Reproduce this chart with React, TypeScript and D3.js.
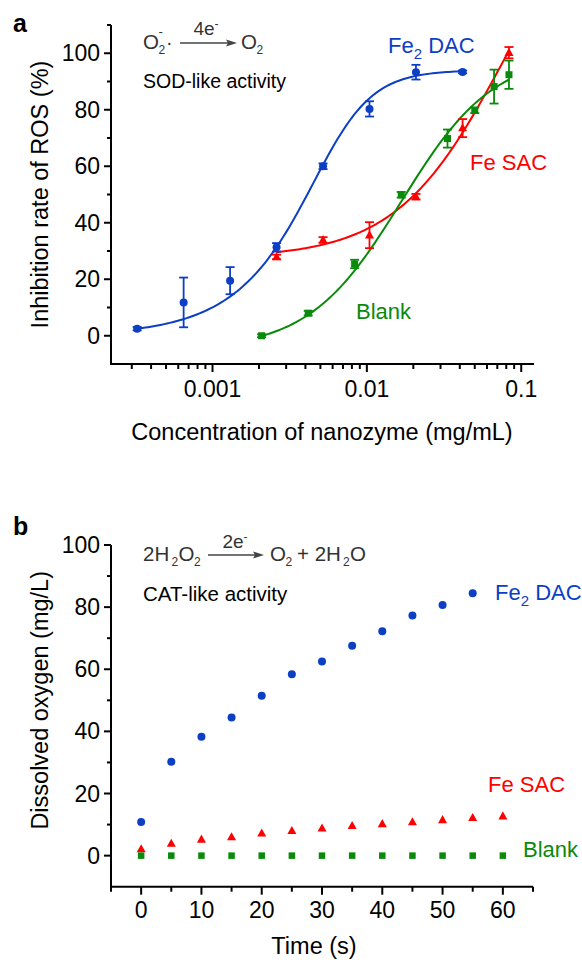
import React from 'react';
import * as d3 from 'd3';

// ---- panel a: SOD-like activity ----
const dacConc = [0.000325, 0.00065, 0.0013, 0.0026, 0.0052, 0.0104, 0.0208, 0.0417];
const dacInhib = [2.5, 11.8, 19.5, 31.3, 60, 80.3, 93.3, 93.4];
const dacErr = [0.6, 8.8, 4.8, 1.5, 1, 2.7, 2.6, 0.5];

const sacConc = [0.0026, 0.0052, 0.0104, 0.0208, 0.0417, 0.0833];
const sacInhib = [27.9, 33.9, 35.6, 49.2, 73.5, 100.2];
const sacErr = [0.8, 1, 4.6, 1, 3.2, 2];

const blankConc = [0.00208, 0.00417, 0.00833, 0.0167, 0.0333, 0.05, 0.0667, 0.0833];
const blankInhib = [0, 8, 25.4, 49.9, 69.8, 79.8, 88.2, 92.4];
const blankErr = [0.5, 0.8, 1.5, 1, 3.2, 1, 6, 5];

// fitted sigmoid on log10(x): [A1, A2, center, width, power]
const dacFit = [0, 94, -2.224, 0.174, 0.5];
const sacFit = [27.5, 170, -1.101, 0.352, 1];
const blankFit = [-5, 100, -1.777, 0.3, 1];

const yTicksA = [0, 20, 40, 60, 80, 100];
const xTicksA = [0.001, 0.01, 0.1];

// ---- panel b: CAT-like activity ----
const times = [0, 5, 10, 15, 20, 25, 30, 35, 40, 45, 50, 55, 60];
const dacO2 = [10.8, 30.2, 38.3, 44.5, 51.5, 58.4, 62.5, 67.6, 72.2, 77.3, 80.7, 84.5];
const sacO2 = [2.1, 3.9, 5.2, 6.0, 7.2, 8.0, 8.8, 9.6, 10.2, 10.8, 11.5, 12.2, 12.7];
const blankO2 = [0, 0, 0, 0, 0, 0, 0, 0, 0, 0, 0, 0, 0];

const yTicksB = [0, 20, 40, 60, 80, 100];
const xTicksB = [0, 10, 20, 30, 40, 50, 60];

const BLUE = '#0c3fc4';
const RED = '#ff0000';
const GREEN = '#0a8a0a';
const FONT = '"Liberation Sans", Arial, Helvetica, sans-serif';

const fitValue = (p: number[], x: number) => {
  const [a1, a2, c, w, s] = p;
  const f = 1 / (1 + Math.exp(-(Math.log10(x) - c) / w));
  return a1 + (a2 - a1) * Math.pow(f, s);
};

const Triangle = ({ x, y, size, color }: any) => {
  const h = size * 0.9;
  return (
    <path
      d={`M${x},${y - h * 0.6}L${x + size / 2},${y + h * 0.4}L${x - size / 2},${y + h * 0.4}Z`}
      fill={color}
    />
  );
};

const Marker = ({ kind, x, y, color, size }: any) => {
  if (kind === 'circle') return <circle cx={x} cy={y} r={size / 2} fill={color} />;
  if (kind === 'square')
    return <rect x={x - size / 2} y={y - size / 2} width={size} height={size} fill={color} />;
  return <Triangle x={x} y={y} size={size} color={color} />;
};

const Arrow = ({ x1, x2, y }: any) => (
  <g>
    <line x1={x1} y1={y} x2={x2 - 8} y2={y} stroke="#444" strokeWidth={1.3} />
    <path d={`M${x2},${y}L${x2 - 11},${y - 3.5}L${x2 - 9},${y}L${x2 - 11},${y + 3.5}Z`} fill="#444" />
  </g>
);

export default function App() {
  // ---------- scales ----------
  const xA = d3.scaleLog().domain([2.2e-4, 0.121]).range([111, 534]);
  const yA = d3.scaleLinear().domain([-10, 110]).range([364, 25]);
  const xB = d3.scaleLinear().domain([-5, 65]).range([111, 533]);
  const yB = d3.scaleLinear().domain([-10, 100]).range([886.7, 545]);

  const minorXA = xA.ticks().filter((t) => !xTicksA.includes(t));
  const minorYA = d3.range(10, 111, 20);
  const minorYB = d3.range(10, 91, 20);
  const minorXB = d3.range(-5, 66, 10);

  const curve = (p: number[], conc: number[]) => {
    const lo = Math.log10(conc[0]);
    const hi = Math.log10(conc[conc.length - 1]);
    const pts = d3.range(0, 121).map((i) => {
      const x = Math.pow(10, lo + ((hi - lo) * i) / 120);
      return [xA(x), yA(fitValue(p, x))] as [number, number];
    });
    return d3.line()(pts) || '';
  };

  const seriesA = [
    { conc: dacConc, val: dacInhib, err: dacErr, fit: dacFit, color: BLUE, kind: 'circle', size: 8 },
    { conc: sacConc, val: sacInhib, err: sacErr, fit: sacFit, color: RED, kind: 'triangle', size: 9 },
    { conc: blankConc, val: blankInhib, err: blankErr, fit: blankFit, color: GREEN, kind: 'square', size: 7 },
  ];

  const axisStroke = { stroke: '#000', strokeWidth: 2 };
  const tickFont = { fontFamily: FONT, fontSize: 23, fill: '#000' };

  return (
    <svg
      width={582}
      height={963}
      style={{ position: 'absolute', left: 0, top: 0, background: '#fff' }}
      fontFamily={FONT}
    >
      <rect width={582} height={963} fill="#fff" />

      {/* ================= panel a ================= */}
      <text x={13} y={32} fontSize={25} fontWeight="bold">a</text>

      {/* fitted curves */}
      {seriesA.map((s, i) => (
        <path key={'fit' + i} d={curve(s.fit, s.conc)} fill="none" stroke={s.color} strokeWidth={2} />
      ))}
      {/* error bars + markers */}
      {seriesA.map((s, i) => (
        <g key={'pts' + i}>
          {s.conc.map((c, j) => {
            const x = xA(c);
            const top = yA(s.val[j] + s.err[j]);
            const bot = yA(s.val[j] - s.err[j]);
            return (
              <g key={j} stroke={s.color} strokeWidth={1.8}>
                <line x1={x} x2={x} y1={top} y2={bot} />
                <line x1={x - 4.5} x2={x + 4.5} y1={top} y2={top} />
                <line x1={x - 4.5} x2={x + 4.5} y1={bot} y2={bot} />
              </g>
            );
          })}
          {s.conc.map((c, j) => (
            <Marker key={'m' + j} kind={s.kind} x={xA(c)} y={yA(s.val[j])} color={s.color} size={s.size} />
          ))}
        </g>
      ))}

      {/* axes a */}
      <line x1={111} x2={111} y1={yA(110)} y2={yA(-10)} {...axisStroke} />
      <line x1={110} x2={534} y1={yA(-10)} y2={yA(-10)} {...axisStroke} />
      {yTicksA.map((t) => (
        <g key={'ya' + t}>
          <line x1={104} x2={111} y1={yA(t)} y2={yA(t)} {...axisStroke} />
          <text x={100} y={yA(t)} dy="0.35em" textAnchor="end" {...tickFont}>{t}</text>
        </g>
      ))}
      {minorYA.map((t) => (
        <line key={'yam' + t} x1={107} x2={111} y1={yA(t)} y2={yA(t)} {...axisStroke} />
      ))}
      {xTicksA.map((t) => (
        <g key={'xa' + t}>
          <line x1={xA(t)} x2={xA(t)} y1={yA(-10)} y2={yA(-10) + 8} {...axisStroke} />
          <text x={xA(t)} y={yA(-10) + 33} textAnchor="middle" {...tickFont}>{String(t)}</text>
        </g>
      ))}
      {minorXA.map((t) => (
        <line key={'xam' + t} x1={xA(t)} x2={xA(t)} y1={yA(-10)} y2={yA(-10) + 5} {...axisStroke} />
      ))}
      <text x={322} y={440} textAnchor="middle" fontSize={23.5}>Concentration of nanozyme (mg/mL)</text>
      <text transform={`translate(48,${(yA(0) + yA(100)) / 2}) rotate(-90)`} textAnchor="middle" fontSize={23.5}>
        Inhibition rate of ROS (%)
      </text>

      {/* annotation a */}
      <g fill="#333">
        <text x={143} y={49} fontSize={20.5}>O</text>
        <text x={158.5} y={54} fontSize={12}>2</text>
        <text x={158.5} y={36} fontSize={13}>-</text>
        <text x={166} y={49} fontSize={20}>·</text>
        <text x={206} y={35} fontSize={19} textAnchor="middle">
          4e<tspan dy={-7} fontSize={12}>-</tspan>
        </text>
        <text x={241} y={49} fontSize={20.5}>O</text>
        <text x={256.5} y={54} fontSize={12}>2</text>
      </g>
      <Arrow x1={180} x2={237} y={43} />
      <text x={143} y={88} fontSize={19.5} fill="#000">SOD-like activity</text>

      {/* series labels a */}
      <text x={388} y={53} fontSize={22} fill={BLUE}>
        Fe<tspan dy={6} fontSize={15}>2</tspan><tspan dy={-6}> DAC</tspan>
      </text>
      <text x={470} y={170} fontSize={22} fill={RED}>Fe SAC</text>
      <text x={356} y={319} fontSize={22} fill={GREEN}>Blank</text>

      {/* ================= panel b ================= */}
      <text x={13} y={535} fontSize={25} fontWeight="bold">b</text>

      {dacO2.map((v, i) => (
        <Marker key={'bd' + i} kind="circle" x={xB(times[i])} y={yB(v)} color={BLUE} size={8} />
      ))}
      {sacO2.map((v, i) => (
        <Marker key={'bs' + i} kind="triangle" x={xB(times[i])} y={yB(v)} color={RED} size={9} />
      ))}
      {blankO2.map((v, i) => (
        <Marker key={'bb' + i} kind="square" x={xB(times[i])} y={yB(v)} color={GREEN} size={6.5} />
      ))}

      {/* axes b */}
      <line x1={111} x2={111} y1={yB(100)} y2={yB(-10)} {...axisStroke} />
      <line x1={110} x2={533} y1={yB(-10)} y2={yB(-10)} {...axisStroke} />
      {yTicksB.map((t) => (
        <g key={'yb' + t}>
          <line x1={104} x2={111} y1={yB(t)} y2={yB(t)} {...axisStroke} />
          <text x={100} y={yB(t)} dy="0.35em" textAnchor="end" {...tickFont}>{t}</text>
        </g>
      ))}
      {minorYB.map((t) => (
        <line key={'ybm' + t} x1={107} x2={111} y1={yB(t)} y2={yB(t)} {...axisStroke} />
      ))}
      {xTicksB.map((t) => (
        <g key={'xb' + t}>
          <line x1={xB(t)} x2={xB(t)} y1={yB(-10)} y2={yB(-10) + 8} {...axisStroke} />
          <text x={xB(t)} y={yB(-10) + 31} textAnchor="middle" {...tickFont}>{t}</text>
        </g>
      ))}
      {minorXB.map((t) => (
        <line key={'xbm' + t} x1={xB(t)} x2={xB(t)} y1={yB(-10)} y2={yB(-10) + 5} {...axisStroke} />
      ))}
      <text x={314} y={954} textAnchor="middle" fontSize={23.5}>Time (s)</text>
      <text transform={`translate(48,${(yB(0) + yB(100)) / 2}) rotate(-90)`} textAnchor="middle" fontSize={23.5}>
        Dissolved oxygen (mg/L)
      </text>

      {/* annotation b */}
      <g fill="#333">
        <text x={143} y={561} fontSize={20.5}>2H</text>
        <text x={171.5} y={566} fontSize={12}>2</text>
        <text x={178.5} y={561} fontSize={20.5}>O</text>
        <text x={194} y={566} fontSize={12}>2</text>
        <text x={235} y={548} fontSize={19} textAnchor="middle">
          2e<tspan dy={-7} fontSize={12}>-</tspan>
        </text>
        <text x={270} y={561} fontSize={20.5}>O</text>
        <text x={285.5} y={566} fontSize={12}>2</text>
        <text x={297} y={561} fontSize={20.5}>+ 2H</text>
        <text x={343} y={566} fontSize={12}>2</text>
        <text x={350} y={561} fontSize={20.5}>O</text>
      </g>
      <Arrow x1={208} x2={264} y={555} />
      <text x={143} y={601} fontSize={20.5} fill="#000">CAT-like activity</text>

      {/* series labels b */}
      <text x={495} y={600} fontSize={22} fill={BLUE}>
        Fe<tspan dy={6} fontSize={15}>2</tspan><tspan dy={-6}> DAC</tspan>
      </text>
      <text x={488} y={792} fontSize={22} fill={RED}>Fe SAC</text>
      <text x={523} y={857} fontSize={22} fill={GREEN}>Blank</text>
    </svg>
  );
}
